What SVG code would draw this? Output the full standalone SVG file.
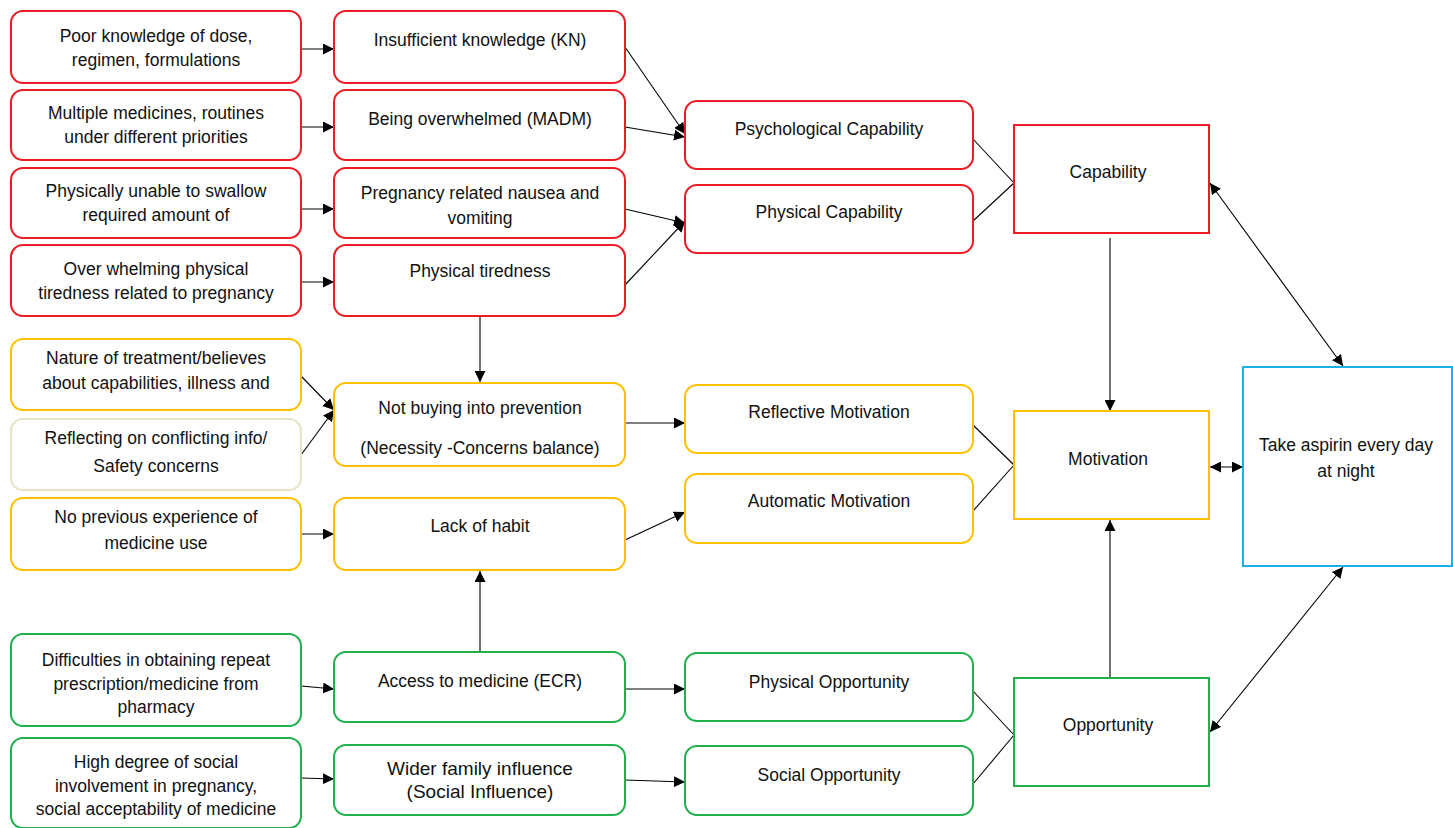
<svg xmlns="http://www.w3.org/2000/svg" width="1453" height="828" viewBox="0 0 1453 828">
<style>
text{font-family:"Liberation Sans",Arial,sans-serif;font-size:17.5px;fill:#111;text-anchor:middle}
.r{fill:#fff;stroke:#ED1C24;stroke-width:2}
.y{fill:#fff;stroke:#FFC000;stroke-width:2}
.yb{fill:#fff;stroke:#E9E3C6;stroke-width:2}
.g{fill:#fff;stroke:#1FB14C;stroke-width:2}
.b{fill:#fff;stroke:#1CB0E6;stroke-width:2}
.c line,.c path{stroke:#000;stroke-width:1.1;fill:none}
.a{marker-end:url(#ah)}
.d{marker-end:url(#ah);marker-start:url(#ah)}
.ws{font-size:19px}
</style>
<defs>
<marker id="ah" viewBox="0 0 10 10" refX="10" refY="5" markerWidth="11" markerHeight="11" markerUnits="userSpaceOnUse" orient="auto-start-reverse">
<path d="M0,0 L10,5 L0,10 Z" fill="#000"/>
</marker>
</defs>
<g class="c">
<line class="a" x1="301" y1="49" x2="334" y2="49"/>
<line class="a" x1="301" y1="127" x2="334" y2="127"/>
<line class="a" x1="301" y1="209" x2="334" y2="209"/>
<line class="a" x1="301" y1="282" x2="334" y2="282"/>
<line class="a" x1="625" y1="47" x2="685" y2="134"/>
<line class="a" x1="625" y1="127" x2="685" y2="137"/>
<line class="a" x1="625" y1="209" x2="685" y2="223"/>
<line class="a" x1="625" y1="285" x2="685" y2="221"/>
<line x1="973" y1="139" x2="1014" y2="183"/>
<line x1="973" y1="221" x2="1014" y2="183"/>
<line class="a" x1="1110" y1="238" x2="1110" y2="411"/>
<line class="d" x1="1210" y1="183" x2="1343" y2="366"/>
<line class="d" x1="1210" y1="467" x2="1243" y2="467"/>
<line class="d" x1="1210" y1="732" x2="1343" y2="567"/>
<line class="a" x1="1110" y1="681" x2="1110" y2="520"/>
<line class="a" x1="480" y1="317" x2="480" y2="382"/>
<line class="a" x1="301" y1="376" x2="334" y2="410"/>
<line class="a" x1="301" y1="455" x2="334" y2="410"/>
<line class="a" x1="625" y1="423" x2="685" y2="423"/>
<line class="a" x1="625" y1="540" x2="685" y2="512"/>
<line class="a" x1="301" y1="534" x2="334" y2="534"/>
<line class="a" x1="480" y1="652" x2="480" y2="571"/>
<line class="a" x1="301" y1="686" x2="334" y2="689"/>
<line class="a" x1="301" y1="778" x2="334" y2="779"/>
<line class="a" x1="625" y1="689" x2="685" y2="689"/>
<line class="a" x1="625" y1="780" x2="685" y2="782"/>
<line x1="973" y1="425" x2="1014" y2="465"/>
<line x1="973" y1="511" x2="1014" y2="465"/>
<line x1="973" y1="691" x2="1014" y2="735"/>
<line x1="973" y1="784" x2="1014" y2="735"/>
</g>
<g id="n-poor"><rect class="r" x="11" y="11" width="290" height="72" rx="12"/><text x="156" y="42">Poor knowledge of dose,</text><text x="156" y="66">regimen, formulations</text></g>
<g id="n-multi"><rect class="r" x="11" y="90" width="290" height="70" rx="12"/><text x="156" y="119">Multiple medicines, routines</text><text x="156" y="143">under different priorities</text></g>
<g id="n-swallow"><rect class="r" x="11" y="168" width="290" height="70" rx="12"/><text x="156" y="197">Physically unable to swallow</text><text x="156" y="221">required amount of</text></g>
<g id="n-overtired"><rect class="r" x="11" y="245" width="290" height="71" rx="12"/><text x="156" y="275">Over whelming physical</text><text x="156" y="299">tiredness related to pregnancy</text></g>
<g id="n-kn"><rect class="r" x="334" y="11" width="291" height="72" rx="12"/><text x="480" y="46">Insufficient knowledge (KN)</text></g>
<g id="n-madm"><rect class="r" x="334" y="90" width="291" height="70" rx="12"/><text x="480" y="125">Being overwhelmed (MADM)</text></g>
<g id="n-nausea"><rect class="r" x="334" y="168" width="291" height="70" rx="12"/><text x="480" y="199">Pregnancy related nausea and</text><text x="480" y="224">vomiting</text></g>
<g id="n-tired"><rect class="r" x="334" y="245" width="291" height="71" rx="12"/><text x="480" y="277">Physical tiredness</text></g>
<g id="n-psych"><rect class="r" x="685" y="101" width="288" height="68" rx="12"/><text x="829" y="135">Psychological Capability</text></g>
<g id="n-phys"><rect class="r" x="685" y="185" width="288" height="68" rx="12"/><text x="829" y="218">Physical Capability</text></g>
<g id="n-capability"><rect class="r" x="1014" y="125" width="195" height="108"/><text x="1108" y="178">Capability</text></g>
<g id="n-nature"><rect class="y" x="11" y="339" width="290" height="71" rx="12"/><text x="156" y="364">Nature of treatment/believes</text><text x="156" y="389">about capabilities, illness and</text></g>
<g id="n-reflecting"><rect class="yb" x="11" y="419" width="290" height="71" rx="12"/><text x="156" y="444">Reflecting on conflicting info/</text><text x="156" y="472">Safety concerns</text></g>
<g id="n-noprev"><rect class="y" x="11" y="498" width="290" height="72" rx="12"/><text x="156" y="523">No previous experience of</text><text x="156" y="549">medicine use</text></g>
<g id="n-notbuying"><rect class="y" x="334" y="383" width="291" height="83" rx="12"/><text x="480" y="414">Not buying into prevention</text><text x="480" y="454">(Necessity -Concerns balance)</text></g>
<g id="n-habit"><rect class="y" x="334" y="498" width="291" height="72" rx="12"/><text x="480" y="532">Lack of habit</text></g>
<g id="n-reflective"><rect class="y" x="685" y="385" width="288" height="68" rx="12"/><text x="829" y="418">Reflective Motivation</text></g>
<g id="n-automatic"><rect class="y" x="685" y="474" width="288" height="69" rx="12"/><text x="829" y="507">Automatic Motivation</text></g>
<g id="n-motivation"><rect class="y" x="1014" y="411" width="195" height="108"/><text x="1108" y="465">Motivation</text></g>
<g id="n-aspirin"><rect class="b" x="1243" y="367" width="209" height="199"/><text x="1346" y="451">Take aspirin every day</text><text x="1346" y="477">at night</text></g>
<g id="n-difficulties"><rect class="g" x="11" y="634" width="290" height="92" rx="12"/><text x="156" y="666">Difficulties in obtaining repeat</text><text x="156" y="690">prescription/medicine from</text><text x="156" y="713">pharmacy</text></g>
<g id="n-highdegree"><rect class="g" x="11" y="738" width="290" height="90" rx="12"/><text x="156" y="768">High degree of social</text><text x="156" y="792">involvement in pregnancy,</text><text x="156" y="815">social acceptability of medicine</text></g>
<g id="n-access"><rect class="g" x="334" y="652" width="291" height="70" rx="12"/><text x="480" y="687">Access to medicine (ECR)</text></g>
<g id="n-wider"><rect class="g" x="334" y="745" width="291" height="70" rx="12"/><text class="ws" x="480" y="775">Wider family influence</text><text class="ws" x="480" y="798">(Social Influence)</text></g>
<g id="n-physopp"><rect class="g" x="685" y="653" width="288" height="68" rx="12"/><text x="829" y="688">Physical Opportunity</text></g>
<g id="n-socopp"><rect class="g" x="685" y="746" width="288" height="69" rx="12"/><text x="829" y="781">Social Opportunity</text></g>
<g id="n-opportunity"><rect class="g" x="1014" y="678" width="195" height="108"/><text x="1108" y="731">Opportunity</text></g>
</svg>
